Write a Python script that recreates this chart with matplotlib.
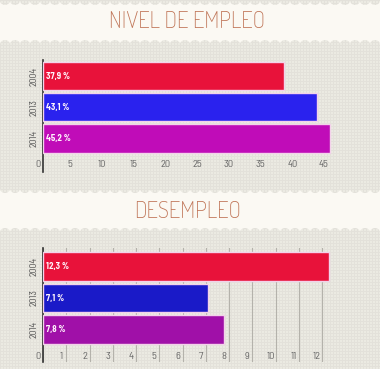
import numpy as np
import matplotlib
matplotlib.use("Agg")
import matplotlib.pyplot as plt
from matplotlib import font_manager as fm
from matplotlib.transforms import ScaledTranslation

# datos
years = ['2004', '2013', '2014']
empleo = [37.9, 43.1, 45.2]
desempleo = [12.3, 7.1, 7.8]
empleo_txt = ['37,9 %', '43,1 %', '45,2 %']
desempleo_txt = ['12,3 %', '7,1 %', '7,8 %']
empleo_ticks = [0, 5, 10, 15, 20, 25, 30, 35, 40, 45]
desempleo_ticks = [0, 1, 2, 3, 4, 5, 6, 7, 8, 9, 10, 11, 12]

colores_top = ['#e8123a', '#2a22ee', '#c00cb8']
colores_bot = ['#e8123a', '#1a1ac8', '#a010a8']

installed = set(f.name for f in fm.fontManager.ttflist)


def pick(*cands):
    for c in cands:
        if c in installed:
            return [c, 'DejaVu Sans']
    return ['DejaVu Sans']


TITLE_FONT = pick('Dosis', 'Barlow Condensed', 'Asap Condensed')
TICK_FONT = pick('Ubuntu Condensed', 'Barlow Semi Condensed', 'Barlow Condensed')
plt.rcParams['font.family'] = TICK_FONT

W, H = 380, 369
fig = plt.figure(figsize=(W / 100, H / 100), dpi=100)

# fondo papel cuadriculado + franjas crema con bordes ondulados
bg = fig.add_axes([0, 0, 1, 1], zorder=-5)
bg.set_xlim(0, W)
bg.set_ylim(H, 0)
bg.axis('off')
tex = np.ones((H, W, 3)) * np.array([0.925, 0.918, 0.890])
tex[::3, :, :] = [0.893, 0.886, 0.858]
tex[:, ::3, :] = [0.893, 0.886, 0.858]
bg.imshow(tex, extent=(0, W, H, 0), interpolation='nearest', aspect='auto')

xs = np.linspace(0, W, 800)
wave = np.sqrt(np.abs(np.sin(np.pi * xs / 10.0)))
for top, bot in [(1, 44), (189, 232)]:
    bg.fill_between(xs, top + 4 * wave, bot - 4 * wave, color='#fbf9f3', lw=0)

fig.text(0.493, 1 - 22 / H, 'NIVEL DE EMPLEO', ha='center', va='center',
         fontsize=16.5, color='#bf7456', family=TITLE_FONT, fontweight='light')
fig.text(0.493, 1 - 212 / H, 'DESEMPLEO', ha='center', va='center',
         fontsize=16.5, color='#bf7456', family=TITLE_FONT, fontweight='light')


def panel(y0, y1, xmax, vals, txts, cols, ticks, ylim, pad, grid):
    ax = fig.add_axes([43 / W, 1 - y1 / H, (350 - 43) / W, (y1 - y0) / H])
    ax.patch.set_alpha(0)
    pos = np.arange(len(years))
    ax.barh(pos, vals, height=0.9, color=cols, edgecolor='#f3d2ea', linewidth=1.0, zorder=3)
    for i, t in enumerate(txts):
        ax.annotate(t, (0, pos[i]), xytext=(2.5, 0), textcoords='offset points',
                    va='center', ha='left', fontsize=6.5, color='#fff4fc',
                    fontweight='bold', zorder=4)
    ax.set_xlim(0, xmax)
    ax.set_ylim(*ylim)
    ax.set_yticks(pos)
    ax.set_yticklabels(years, rotation=90, va='center', fontsize=7, color='#555555')
    ax.set_xticks(ticks)
    ax.set_xticklabels([str(t) for t in ticks], fontsize=7.5, color='#666666')
    ax.tick_params(axis='y', length=0, pad=3)
    ax.tick_params(axis='x', length=0, pad=pad)
    off = ScaledTranslation(-5 / 100, 0, fig.dpi_scale_trans)
    for lab in ax.get_xticklabels():
        lab.set_transform(lab.get_transform() + off)
    for s in ['top', 'right', 'bottom']:
        ax.spines[s].set_visible(False)
    ax.spines['left'].set_color('#333333')
    ax.spines['left'].set_linewidth(1.2)
    if grid:
        ax.grid(axis='x', color='#b4b2ab', linewidth=0.8, zorder=0)
        ax.set_axisbelow(True)
    return ax


panel(60, 172, 48.3, empleo, empleo_txt, colores_top, empleo_ticks,
      (3.07, -0.512), -8.5, False)
panel(248, 362, 13.2, desempleo, desempleo_txt, colores_bot, desempleo_ticks,
      (3.03, -0.587), -7.5, True)

fig.savefig('out.png', dpi=100)
